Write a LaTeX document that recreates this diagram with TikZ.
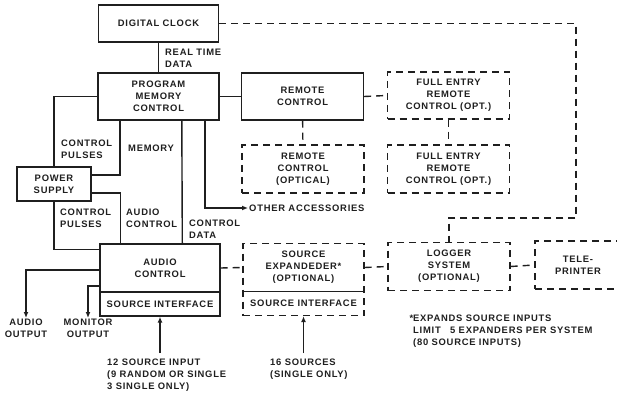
\documentclass[tikz,border=0pt]{standalone}
\usepackage{fontspec}
\setmainfont[LetterSpace=8]{Liberation Sans}
\usepackage{tikz}
\usetikzlibrary{positioning, arrows.meta}
\definecolor{ink}{rgb}{0.12,0.12,0.12}

\begin{document}
\begin{tikzpicture}[x=1pt, y=-1pt,
    block/.style={draw=ink, line width=1.4pt, fill=white, align=center,
                  inner sep=2pt, font=\fontsize{9.4}{12}\selectfont\bfseries, text=ink},
    opt/.style={block, dash pattern=on 7pt off 5pt},
    lab/.style={font=\fontsize{9.4}{12}\selectfont\bfseries, text=ink, align=left,
                anchor=west, inner sep=1pt},
    link/.style={draw=ink, line width=1.4pt},
    dlink/.style={link, dash pattern=on 7pt off 5pt},
    arr/.style={link, -{Latex[length=6pt,width=5pt]}}
]
\useasboundingbox (0,0) rectangle (617,395);

% top row
\node[block, minimum width=120pt, minimum height=37pt] (clock) at (158.5,23.5) {DIGITAL CLOCK};
\node[block, minimum width=121pt, minimum height=47pt] (pmc) at (158.5,96.5) {PROGRAM\\MEMORY\\CONTROL};
\node[block, minimum width=122pt, minimum height=47pt] (rc) at (302.5,96.5) {REMOTE\\CONTROL};
\node[opt, minimum width=122pt, minimum height=47pt] (fe1) at (448.5,95.5) {FULL ENTRY\\REMOTE\\CONTROL (OPT.)};
\node[opt, minimum width=122pt, minimum height=48pt] (fe2) at (448.5,169) {FULL ENTRY\\REMOTE\\CONTROL (OPT.)};
\node[opt, minimum width=122pt, minimum height=48pt] (rco) at (303,169) {REMOTE\\CONTROL\\(OPTICAL)};
\node[block, minimum width=74pt, minimum height=34pt] (ps) at (54,184) {POWER\\SUPPLY};

% lower row
\node[block, minimum width=120pt, minimum height=48pt] (ac) at (160,268) {AUDIO\\CONTROL};
\node[block, minimum width=120pt, minimum height=24pt] (acsi) at (160,304) {SOURCE INTERFACE};
\node[opt, minimum width=121pt, minimum height=48pt] (se) at (303.5,267.5) {SOURCE\\EXPANDEDER*\\(OPTIONAL)};
\node[opt, minimum width=121pt, minimum height=24pt] (sesi) at (303.5,303.5) {SOURCE INTERFACE};
\node[opt, minimum width=122pt, minimum height=48pt] (log) at (449,266.5) {LOGGER\\SYSTEM\\(OPTIONAL)};
\node[opt, minimum width=86pt, minimum height=48pt] (tele) at (578,265) {TELE-\\PRINTER};

% labels
\node[lab] (rtd) at (164,58) {REAL TIME\\DATA};
\node[lab] (cp1) at (60,149) {CONTROL\\PULSES};
\node[lab] (mem) at (127,148) {MEMORY};
\node[lab] (cp2) at (59,218) {CONTROL\\PULSES};
\node[lab] (actl) at (125,218) {AUDIO\\CONTROL};
\node[lab] (cdat) at (188,229) {CONTROL\\DATA};
\node[lab] (acc) at (248,208) {OTHER ACCESSORIES};
\node[lab, anchor=north, align=center] (aout) at (26,318) {AUDIO\\OUTPUT};
\node[lab, anchor=north, align=center] (mout) at (88,318) {MONITOR\\OUTPUT};
\node[lab, anchor=north west] (src12) at (106,358) {12 SOURCE INPUT\\(9 RANDOM OR SINGLE\\3 SINGLE ONLY)};
\node[lab, anchor=north west] (src16) at (269,358) {16 SOURCES\\(SINGLE ONLY)};
\node[lab, anchor=north west] (note) at (412,314) {\llap{*}EXPANDS SOURCE INPUTS\\LIMIT\quad 5 EXPANDERS PER SYSTEM\\(80 SOURCE INPUTS)};

\coordinate (clk) at (576,218);
\coordinate (in12) at (160,353);
\coordinate (in16) at (303.5,353);

% solid links
\draw[link] (clock) -- (pmc);
\draw[link] (pmc) -- (rc);
\draw[link] (pmc.west) -| (ps.north);
\draw[link] ([xshift=22.5pt]pmc.south west) |- ([yshift=9pt]ps.east);
\draw[link] ([yshift=-9pt]ps.east) -| ([xshift=21pt]ac.north west);
\draw[link] (ps.south) |- ([yshift=-6pt]ac.north west);
\draw[link] ([xshift=84.5pt]pmc.south west) -- ([xshift=83pt]ac.north west);
\draw[arr] ([xshift=107.5pt]pmc.south west) |- (acc.west);
\draw[arr] ([yshift=-2pt]ac.west) -| (aout.north);
\draw[arr] ([yshift=-18pt]ac.west) -| (mout.north);
\draw[arr] (in12) -- (acsi.south);
\draw[arr] (in16) -- (sesi.south);

% optional (dashed) links
\draw[dlink] (clock.east) -| (clk) -| (log.north);
\draw[dlink] (rc.east) -- (fe1.west);
\draw[dlink] (rc) -- (rco);
\draw[dlink] (fe1) -- (fe2);
\draw[dlink] (ac.east) -- (se.west);
\draw[dlink] (se.east) -- (log.west);
\draw[dlink] (log.east) -- (tele.west);
\end{tikzpicture}
\end{document}
